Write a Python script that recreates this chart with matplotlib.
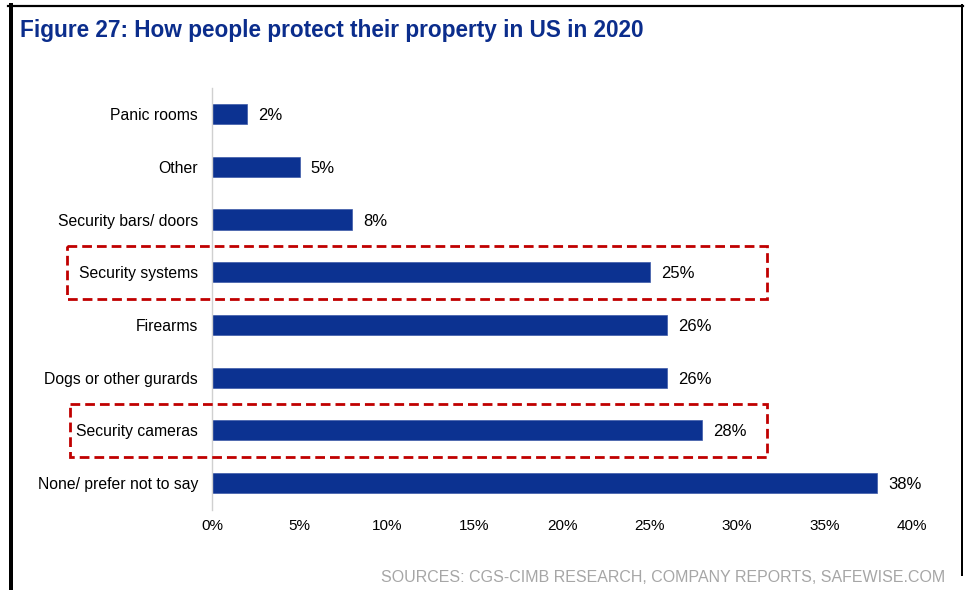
import matplotlib.pyplot as plt
from matplotlib.patches import Rectangle
from matplotlib.lines import Line2D
import numpy as np

plt.rcParams['font.family'] = ['Liberation Sans', 'DejaVu Sans']

categories = ["Panic rooms", "Other", "Security bars/ doors", "Security systems",
              "Firearms", "Dogs or other gurards", "Security cameras",
              "None/ prefer not to say"]
shares = [2, 5, 8, 25, 26, 26, 28, 38]
highlighted = ["Security systems", "Security cameras"]
xticks = [0, 5, 10, 15, 20, 25, 30, 35, 40]

bar_color = "#0c3291"
box_color = "#c00000"

fig = plt.figure(figsize=(9.68, 5.9), dpi=100)
W, H = 968, 590
ax = fig.add_axes([212 / W, 1 - 509.5 / H, 700 / W, 421.8 / H])

pos = np.arange(len(categories))
ax.barh(pos, shares, height=0.38, color=bar_color, edgecolor="#3d5aa8", linewidth=0.5)
ax.set_ylim(len(categories) - 0.5, -0.5)
ax.set_xlim(0, 40)

for p, v in zip(pos, shares):
    ax.text(v + 0.65, p, f"{v}%", va="center_baseline", ha="left", fontsize=12, color="black")

ax.set_yticks(pos)
ax.set_yticklabels(categories, fontsize=11.3, color="black")
ax.set_xticks(xticks)
ax.set_xticklabels([f"{t}%" for t in xticks], fontsize=11, color="black")
ax.tick_params(axis="both", length=0)
ax.tick_params(axis="y", pad=10)
ax.tick_params(axis="x", pad=7)

for side in ["top", "right", "bottom"]:
    ax.spines[side].set_visible(False)
ax.spines["left"].set_color("#d0d0d0")
ax.spines["left"].set_linewidth(1)

# dashed boxes around the highlighted rows
box_left = {"Security systems": -8.3, "Security cameras": -8.1}
for name in highlighted:
    i = categories.index(name)
    x0 = box_left[name]
    ax.add_patch(Rectangle((x0, i - 0.5), 31.7 - x0, 1.0, fill=False,
                           edgecolor=box_color, linewidth=2, linestyle=(0, (3.5, 1.8)),
                           clip_on=False, zorder=5))

fig.text(20 / W, 1 - 30 / H, "Figure 27: How people protect their property in US in 2020",
         fontsize=16.3, fontweight="bold", color="#0b2d8c", va="center", ha="left")
fig.text(945 / W, 1 - 578 / H, "SOURCES: CGS-CIMB RESEARCH, COMPANY REPORTS, SAFEWISE.COM",
         fontsize=11.5, color="#a6a6a6", va="center", ha="right")

# page frame
frame = [([10.5, 10.5], [5, 590], 4),
         ([8, 963], [5.5, 5.5], 2.2),
         ([962, 962], [5, 575], 2)]
for xs, ys, lw in frame:
    fig.add_artist(Line2D([x / W for x in xs], [1 - y / H for y in ys],
                          color="black", linewidth=lw * 0.72))

fig.savefig("out.png", dpi=100)
